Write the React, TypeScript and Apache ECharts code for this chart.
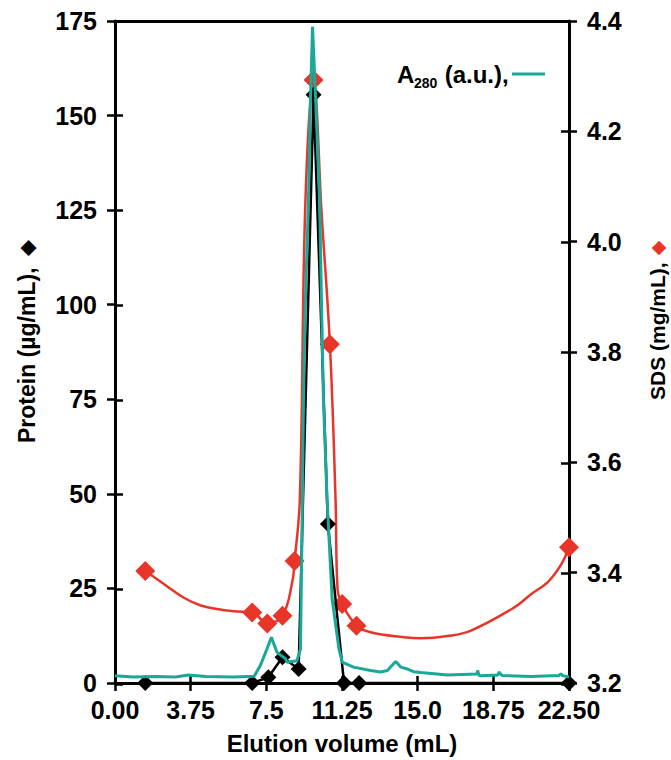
import React, { useEffect, useRef } from "react";
import * as echarts from "echarts";

// Elution volume axis ticks and their printed labels
const xTicks = [0, 3.75, 7.5, 11.25, 15, 18.75, 22.5];
const xTickLabels = ["0.00", "3.75", "7.5", "11.25", "15.0", "18.75", "22.50"];

// Protein (µg/mL), black diamonds
const proteinX = [1.5, 6.8, 7.6, 8.3, 9.1, 9.84, 10.55, 11.35, 12.1, 22.5];
const protein = [0, 0, 1.5, 6.8, 3.7, 155.5, 42, 0, 0, 0];

// SDS (mg/mL), red diamonds
const sdsX = [1.5, 6.8, 7.55, 8.3, 8.9, 9.84, 10.65, 11.26, 11.97, 22.5];
const sds = [3.403, 3.328, 3.308, 3.322, 3.421, 4.293, 3.814, 3.343, 3.304, 3.446];

// SDS trend curve drawn through the red points
const sdsCurveX = [1.5, 2.56, 3.39, 4.22, 5.05, 5.88, 6.8, 7.55, 8.3, 8.78, 8.9, 9.16, 9.44, 9.84, 10.25, 10.65, 10.93, 11.03, 11.26, 11.97, 12.67, 14.32, 15.15, 16.48, 17.64, 19.79, 20.62, 21.45, 22.1, 22.5];
const sdsCurve = [3.403, 3.376, 3.355, 3.341, 3.334, 3.33, 3.328, 3.308, 3.322, 3.382, 3.421, 3.533, 4.076, 4.293, 4.045, 3.814, 3.533, 3.37, 3.343, 3.304, 3.292, 3.283, 3.281, 3.285, 3.295, 3.337, 3.361, 3.383, 3.414, 3.446];

// A280 (a.u.) absorbance trace
const a280X = [0, 0.9, 2.0, 3.0, 3.63, 4.5, 5.9, 6.9, 7.2, 7.53, 7.75, 8.03, 8.45, 8.53, 9.02, 9.19, 9.29, 9.34, 9.44, 9.59, 9.69, 9.79, 9.94, 10.14, 10.23, 10.33, 10.51, 10.76, 11.1, 11.26, 11.82, 12.67, 13.16, 13.5, 13.91, 14.16, 14.5, 14.8, 15.15, 16.48, 17.93, 17.98, 18.03, 18.13, 18.98, 19.03, 19.18, 20.62, 22.0, 22.1, 22.2, 22.5];
const a280 = [1.9, 1.6, 1.7, 1.6, 2.1, 1.7, 1.6, 1.8, 4.6, 9, 12.1, 8.1, 6.4, 5.5, 5.9, 9, 48.7, 75, 101.7, 128, 154.7, 173.5, 154.7, 128, 101.7, 75, 48.7, 22.2, 9, 5.5, 4.2, 3.3, 2.9, 3.3, 5.7, 4.2, 3.7, 3.0, 2.8, 2.1, 2.4, 3.3, 2.1, 1.9, 2.1, 2.9, 2.0, 1.7, 2.0, 2.4, 1.9, 1.6];

const FONT = "'Liberation Sans', Arial, sans-serif";
const RED = "#e8352a";
const TEAL = "#1aa898";
const BLACK = "#000000";

const zip = (xs: number[], ys: number[]) => xs.map((x, i) => [x, ys[i]]);

export default function App() {
  const ref = useRef<HTMLDivElement>(null);

  useEffect(() => {
    if (!ref.current) return;
    const chart = echarts.init(ref.current, undefined, { renderer: "svg" });

    const gridBox = { left: 115, right: 102, top: 21, bottom: 76 };
    const labelStyle = {
      color: BLACK,
      fontFamily: FONT,
      fontWeight: "bold" as const,
      fontSize: 25,
    };
    const lineStyle = { color: BLACK, width: 3 };
    const tickStyle = { color: BLACK, width: 2.5 };
    const axisLine = { show: true, onZero: false, lineStyle };

    // rotated axis title reading upwards from (x, y), then a diamond key above it
    const sideTitle = (x: number, y: number, label: string, size: number, keyY: number, key: string) => [
      {
        type: "text",
        x,
        y,
        rotation: Math.PI / 2,
        style: {
          text: label,
          font: `bold ${size}px ${FONT}`,
          fill: BLACK,
          align: "left",
          verticalAlign: "middle",
        },
      },
      {
        type: "text",
        x,
        y: keyY,
        rotation: Math.PI / 2,
        style: {
          text: "◆",
          font: `${size - 2}px 'DejaVu Sans'`,
          fill: key,
          align: "center",
          verticalAlign: "middle",
        },
      },
    ];

    chart.setOption({
      animation: false,
      backgroundColor: "#ffffff",
      grid: [{ ...gridBox }, { ...gridBox }],
      xAxis: [
        {
          type: "value",
          gridIndex: 0,
          position: "bottom",
          min: 0,
          max: 22.5,
          interval: 3.75,
          splitLine: { show: false },
          axisLine,
          axisTick: { length: 8, lineStyle: tickStyle },
          axisLabel: {
            ...labelStyle,
            margin: 14,
            formatter: (v: number) => {
              const i = xTicks.findIndex((t) => Math.abs(t - v) < 1e-6);
              return i >= 0 ? xTickLabels[i] : "";
            },
          },
          name: "Elution volume (mL)",
          nameLocation: "middle",
          nameGap: 48,
          nameTextStyle: { ...labelStyle, fontSize: 24 },
        },
        {
          type: "value",
          gridIndex: 0,
          position: "top",
          min: 0,
          max: 22.5,
          interval: 3.75,
          splitLine: { show: false },
          axisLine,
          axisTick: { show: false },
          axisLabel: { show: false },
        },
        {
          // inward half of the crossing ticks
          type: "value",
          gridIndex: 1,
          position: "bottom",
          min: 0,
          max: 22.5,
          interval: 3.75,
          splitLine: { show: false },
          axisLine: { show: false, onZero: false },
          axisTick: { inside: true, length: 8, lineStyle: tickStyle },
          axisLabel: { show: false },
        },
      ],
      yAxis: [
        {
          type: "value",
          gridIndex: 0,
          position: "left",
          min: 0,
          max: 175,
          interval: 25,
          splitLine: { show: false },
          axisLine,
          axisTick: { show: true, length: 8, lineStyle: tickStyle },
          axisLabel: { ...labelStyle, margin: 18 },
        },
        {
          type: "value",
          gridIndex: 0,
          position: "right",
          min: 3.2,
          max: 4.4,
          interval: 0.2,
          splitLine: { show: false },
          axisLine,
          axisTick: { show: true, length: 8, lineStyle: tickStyle },
          axisLabel: {
            ...labelStyle,
            margin: 18,
            formatter: (v: number) => v.toFixed(1),
          },
        },
        {
          type: "value",
          gridIndex: 1,
          position: "left",
          min: 0,
          max: 175,
          interval: 25,
          splitLine: { show: false },
          axisLine: { show: false, onZero: false },
          axisTick: { show: true, inside: true, length: 8, lineStyle: tickStyle },
          axisLabel: { show: false },
        },
        {
          type: "value",
          gridIndex: 1,
          position: "right",
          min: 3.2,
          max: 4.4,
          interval: 0.2,
          splitLine: { show: false },
          axisLine: { show: false, onZero: false },
          axisTick: { show: true, inside: true, length: 8, lineStyle: tickStyle },
          axisLabel: { show: false },
        },
      ],
      series: [
        {
          name: "SDS trend",
          type: "line",
          xAxisIndex: 0,
          yAxisIndex: 1,
          data: zip(sdsCurveX, sdsCurve),
          smooth: 0.4,
          showSymbol: false,
          clip: false,
          lineStyle: { color: RED, width: 2.5 },
          z: 2,
        },
        {
          name: "SDS",
          type: "scatter",
          xAxisIndex: 0,
          yAxisIndex: 1,
          data: zip(sdsX, sds),
          symbol: "diamond",
          symbolSize: 20,
          clip: false,
          itemStyle: { color: RED, opacity: 1 },
          z: 3,
        },
        {
          name: "Protein",
          type: "line",
          xAxisIndex: 0,
          yAxisIndex: 0,
          data: zip(proteinX, protein),
          symbol: "diamond",
          symbolSize: 16,
          showAllSymbol: true,
          clip: false,
          lineStyle: { color: BLACK, width: 2.5 },
          itemStyle: { color: BLACK },
          z: 4,
        },
        {
          name: "A280",
          type: "line",
          xAxisIndex: 0,
          yAxisIndex: 0,
          data: zip(a280X, a280),
          showSymbol: false,
          clip: false,
          lineStyle: { color: TEAL, width: 3 },
          z: 5,
        },
      ],
      graphic: [
        ...sideTitle(27, 443, "Protein (µg/mL),", 23, 248, BLACK),
        ...sideTitle(657, 400, "SDS (mg/mL),", 21, 248, RED),
        {
          type: "text",
          x: 397,
          y: 74,
          style: {
            text: "A",
            font: `bold 24px ${FONT}`,
            fill: BLACK,
            verticalAlign: "middle",
          },
        },
        {
          type: "text",
          x: 414,
          y: 83,
          style: {
            text: "280",
            font: `bold 14px ${FONT}`,
            fill: BLACK,
            verticalAlign: "middle",
          },
        },
        {
          type: "text",
          x: 438,
          y: 74,
          style: {
            text: " (a.u.),",
            font: `bold 24px ${FONT}`,
            fill: BLACK,
            verticalAlign: "middle",
          },
        },
        {
          type: "line",
          shape: { x1: 512, y1: 74, x2: 545, y2: 74 },
          style: { stroke: TEAL, lineWidth: 3 },
        },
      ],
    });

    return () => chart.dispose();
  }, []);

  return (
    <div
      ref={ref}
      style={{ position: "fixed", left: 0, top: 0, width: 671, height: 760 }}
    />
  );
}
